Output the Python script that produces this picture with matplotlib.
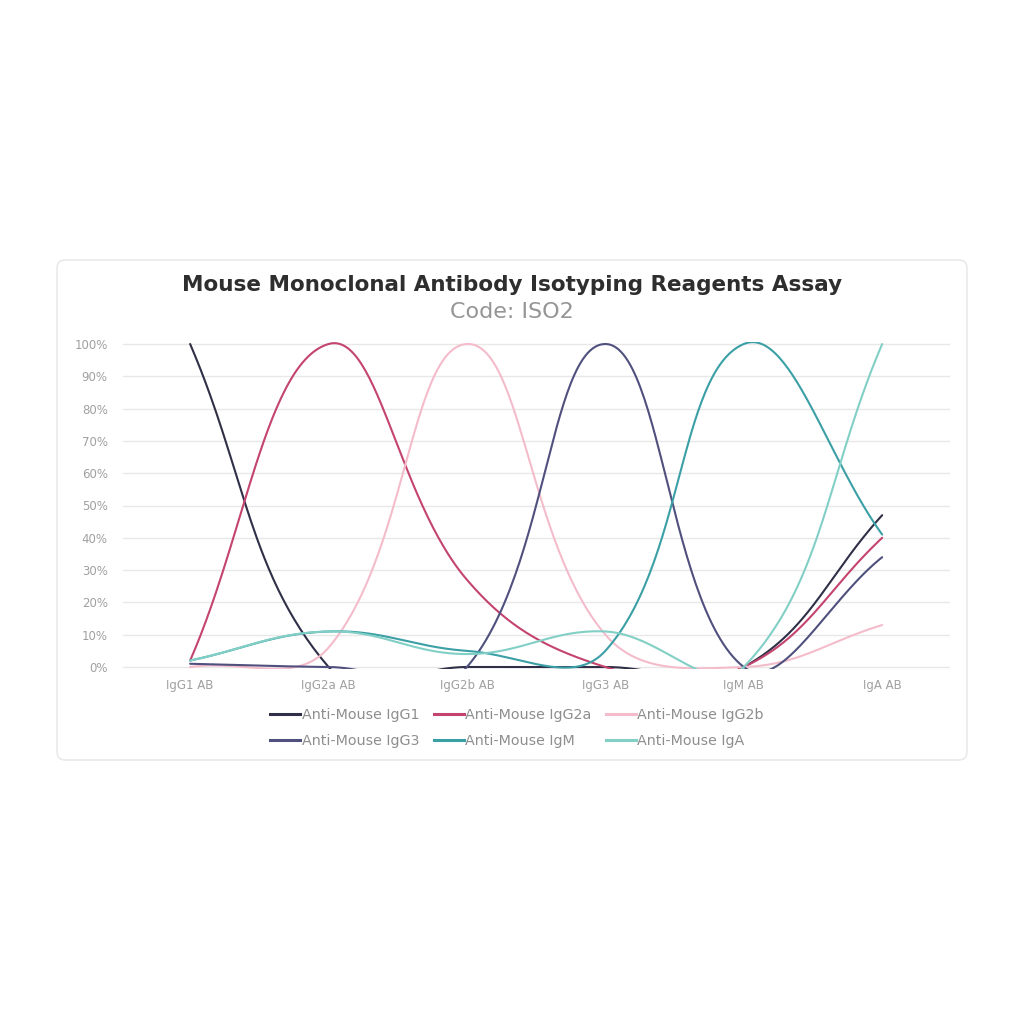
import numpy as np
import matplotlib
matplotlib.use("Agg")
import matplotlib.pyplot as plt
from matplotlib.patches import FancyBboxPatch
from matplotlib.lines import Line2D

# ---------------- data ----------------
categories = ["IgG1 AB", "IgG2a AB", "IgG2b AB", "IgG3 AB", "IgM AB", "IgA AB"]
series_names = ["Anti-Mouse IgG1", "Anti-Mouse IgG2a", "Anti-Mouse IgG2b",
                "Anti-Mouse IgG3", "Anti-Mouse IgM", "Anti-Mouse IgA"]
igg1 = [100, 0, 0, 0, 0, 47]
igg2a = [2, 100, 27, 0, 0, 40]
igg2b = [0, 6, 100, 10, 0, 13]
igg3 = [1, 0, 0, 100, 0, 34]
igm = [2, 11, 5, 5, 100, 41]
iga = [2, 11, 4, 11, 0, 100]
series_values = [igg1, igg2a, igg2b, igg3, igm, iga]
colors = ["#2f2f47", "#c4446f", "#f4bccb", "#50507e", "#3b9fa6", "#82cfc6"]
yticks = [0, 10, 20, 30, 40, 50, 60, 70, 80, 90, 100]
title = "Mouse Monoclonal Antibody Isotyping Reagents Assay"
subtitle = "Code: ISO2"

# ---------------- spline (Chart.js-like tension curve) ----------------
SX, SY = 138.4, 3.23  # px per category / px per percent (for distances)


def spline(values, tension=0.4, n=60):
    px = np.arange(len(values)) * SX
    py = np.asarray(values, float) * SY
    m = len(values)
    prev_c = np.zeros((m, 2))
    next_c = np.zeros((m, 2))
    for i in range(m):
        p0 = np.array([px[max(i - 1, 0)], py[max(i - 1, 0)]])
        p1 = np.array([px[i], py[i]])
        p2 = np.array([px[min(i + 1, m - 1)], py[min(i + 1, m - 1)]])
        d01 = np.hypot(*(p1 - p0))
        d12 = np.hypot(*(p2 - p1))
        tot = d01 + d12
        s01 = d01 / tot if tot else 0
        s12 = d12 / tot if tot else 0
        fa, fb = tension * s01, tension * s12
        prev_c[i] = p1 - fa * (p2 - p0)
        next_c[i] = p1 + fb * (p2 - p0)
    xs, ys = [], []
    t = np.linspace(0, 1, n)[:, None]
    for i in range(m - 1):
        P0 = np.array([px[i], py[i]])
        P3 = np.array([px[i + 1], py[i + 1]])
        P1 = next_c[i]
        P2 = prev_c[i + 1]
        B = ((1 - t) ** 3) * P0 + 3 * ((1 - t) ** 2) * t * P1 + 3 * (1 - t) * t ** 2 * P2 + t ** 3 * P3
        xs.append(B[:, 0])
        ys.append(B[:, 1])
    return np.concatenate(xs) / SX, np.concatenate(ys) / SY


# ---------------- figure ----------------
fig = plt.figure(figsize=(10.24, 10.24), dpi=100)
W = H = 1024.0

card = FancyBboxPatch((57 / W, 1 - 760 / H), 910 / W, 500 / H,
                      boxstyle="round,pad=0,rounding_size=0.008",
                      transform=fig.transFigure, facecolor="white",
                      edgecolor="#e6e6e6", linewidth=1.0, zorder=-10)
fig.patches.append(card)

fig.text(0.5, 1 - 285 / H, title, ha="center", va="center",
         fontsize=15.5, fontweight="bold", color="#2e2e2e")
fig.text(0.5, 1 - 312 / H, subtitle, ha="center", va="center",
         fontsize=16, color="#959595")

# axes: y=0 at px 667, y=100 at px 344
ypad = 0.6
ppu = (667 - 344) / 100.0
ax_bottom_px = 667 + ypad * ppu
ax_top_px = 344 - ypad * ppu
left_px, right_px = 123, 950
ax = fig.add_axes([left_px / W, 1 - ax_bottom_px / H,
                   (right_px - left_px) / W, (ax_bottom_px - ax_top_px) / H])
ax.set_xlim(-0.485, 5.49)
ax.set_ylim(-ypad, 100 + ypad)
ax.patch.set_alpha(0)

for yv in yticks:
    ax.axhline(yv, color="#e8e8e8", linewidth=1.0, zorder=1)

x_idx = np.arange(len(categories))
for name, vals, col in zip(series_names, series_values, colors):
    xs, ys = spline(vals)
    ax.plot(xs, ys, color=col, linewidth=1.5, zorder=3, solid_capstyle="round")

ax.set_xticks(x_idx)
ax.set_xticklabels(categories, fontsize=8.5, color="#a0a0a0")
ax.set_yticks(yticks)
ax.set_yticklabels([f"{v}%" for v in yticks], fontsize=8.5, color="#a0a0a0")
ax.tick_params(axis="both", length=0)
ax.tick_params(axis="x", pad=7)
ax.tick_params(axis="y", pad=11)
for s in ax.spines.values():
    s.set_visible(False)

# legend (row-major order)
handles = [Line2D([0], [0], color=c, linewidth=2.2) for c in colors]
order = [0, 3, 1, 4, 2, 5]
fig.legend([handles[i] for i in order], [series_names[i] for i in order],
           ncol=3, loc="upper center", bbox_to_anchor=(0.505, 1 - 695 / H),
           frameon=False, fontsize=10.3, labelcolor="#8e8e8e",
           handlelength=2.1, handletextpad=0.1, columnspacing=1.0,
           labelspacing=0.85)

fig.savefig("out.png", dpi=100, facecolor="white")
